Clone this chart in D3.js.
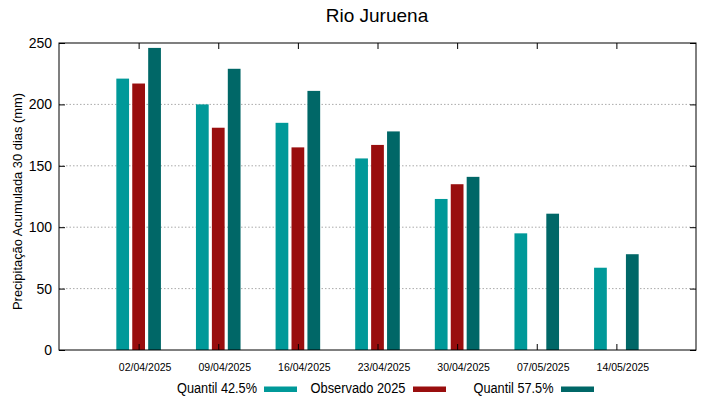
<!DOCTYPE html>
<html>
<head>
<meta charset="UTF-8">
<title>Rio Juruena</title>
<script src="https://d3js.org/d3.v7.min.js"></script>
<style>
  body { margin: 0; background: #fff; }
  text { font-family: "Liberation Sans", Arial, sans-serif; }
</style>
</head>
<body>
<div id="chart"></div>
<script>
const dates = ["02/04/2025", "09/04/2025", "16/04/2025", "23/04/2025", "30/04/2025", "07/05/2025", "14/05/2025"];
const q425 = [221, 200, 185, 156, 123, 95, 67];
const obs2025 = [217, 181, 165, 167, 135, null, null];
const q575 = [246, 229, 211, 178, 141, 111, 78];
const yTicks = [0, 50, 100, 150, 200, 250];

const W = 719, H = 399;
const margin = { top: 43, right: 23, bottom: 49, left: 59 };
const width = W - margin.left - margin.right;
const height = H - margin.top - margin.bottom;

const svg = d3.select("#chart").append("svg")
  .attr("width", W).attr("height", H);

const g = svg.append("g")
  .attr("transform", "translate(" + margin.left + "," + margin.top + ")");

const x = d3.scaleLinear().domain([0, 8]).range([0, width]);
const y = d3.scaleLinear().domain([0, 250]).range([height, 0]);

// dotted grid
g.selectAll(".grid")
  .data(yTicks.filter(t => t > 0 && t < 250))
  .enter().append("line")
  .attr("x1", 0).attr("x2", width)
  .attr("y1", d => y(d)).attr("y2", d => y(d))
  .attr("stroke", "#aaa").attr("stroke-width", 1)
  .attr("stroke-dasharray", "1.5,2");

const series = [
  { name: "Quantil 42.5%", values: q425, color: "#009999", off: -0.2 },
  { name: "Observado 2025", values: obs2025, color: "#990e0e", off: 0 },
  { name: "Quantil 57.5%", values: q575, color: "#006767", off: 0.2 }
];
const bw = 0.16;

series.forEach(s => {
  g.selectAll(null)
    .data(s.values.map((v, i) => ({ v: v, i: i })).filter(d => d.v != null))
    .enter().append("rect")
    .attr("x", d => x(d.i + 1 + s.off - bw / 2))
    .attr("width", x(bw) - x(0))
    .attr("y", d => y(d.v))
    .attr("height", d => height - y(d.v))
    .attr("fill", s.color);
});

// axes with inward ticks, mirrored
g.append("g").call(d3.axisLeft(y).tickValues(yTicks).tickSize(-6).tickPadding(7))
  .call(a => a.select(".domain").remove())
  .selectAll("text").style("font-size", "14px").attr("fill", "#000");
g.append("g").attr("transform", "translate(" + width + ",0)")
  .call(d3.axisRight(y).tickValues(yTicks).tickSize(-6).tickFormat(""))
  .call(a => a.select(".domain").remove());

const xt = d3.range(1, 8);
g.append("g").attr("transform", "translate(0," + height + ")")
  .call(d3.axisBottom(x).tickValues(xt).tickSize(-6).tickPadding(14).tickFormat((d, i) => dates[i]))
  .call(a => a.select(".domain").remove())
  .selectAll("text").style("font-size", "10.5px").attr("fill", "#000").attr("dx", 6);
g.append("g")
  .call(d3.axisTop(x).tickValues(xt).tickSize(-6).tickFormat(""))
  .call(a => a.select(".domain").remove());

g.append("rect")
  .attr("width", width).attr("height", height)
  .attr("fill", "none").attr("stroke", "#000").attr("stroke-width", 1);

// title and labels
svg.append("text")
  .attr("x", 377).attr("y", 22)
  .attr("text-anchor", "middle")
  .style("font-size", "19px")
  .text("Rio Juruena");

svg.append("text")
  .attr("transform", "translate(22,201.5) rotate(-90)")
  .attr("text-anchor", "middle")
  .style("font-size", "13.5px")
  .attr("textLength", 217)
  .attr("lengthAdjust", "spacingAndGlyphs")
  .text("Precipitação Acumulada 30 dias (mm)");

// legend
const legend = [
  { label: "Quantil 42.5%", tx: 257, sx: 264, w: 80, color: "#009999" },
  { label: "Observado 2025", tx: 405.5, sx: 413, w: 95, color: "#990e0e" },
  { label: "Quantil 57.5%", tx: 553.5, sx: 561, w: 80, color: "#006767" }
];
legend.forEach(l => {
  svg.append("text")
    .attr("x", l.tx - l.w).attr("y", 393)
    .style("font-size", "14px")
    .attr("textLength", l.w)
    .attr("lengthAdjust", "spacingAndGlyphs")
    .text(l.label);
  svg.append("rect")
    .attr("x", l.sx).attr("y", 386.5)
    .attr("width", 33).attr("height", 5.5)
    .attr("fill", l.color);
});
</script>
</body>
</html>
